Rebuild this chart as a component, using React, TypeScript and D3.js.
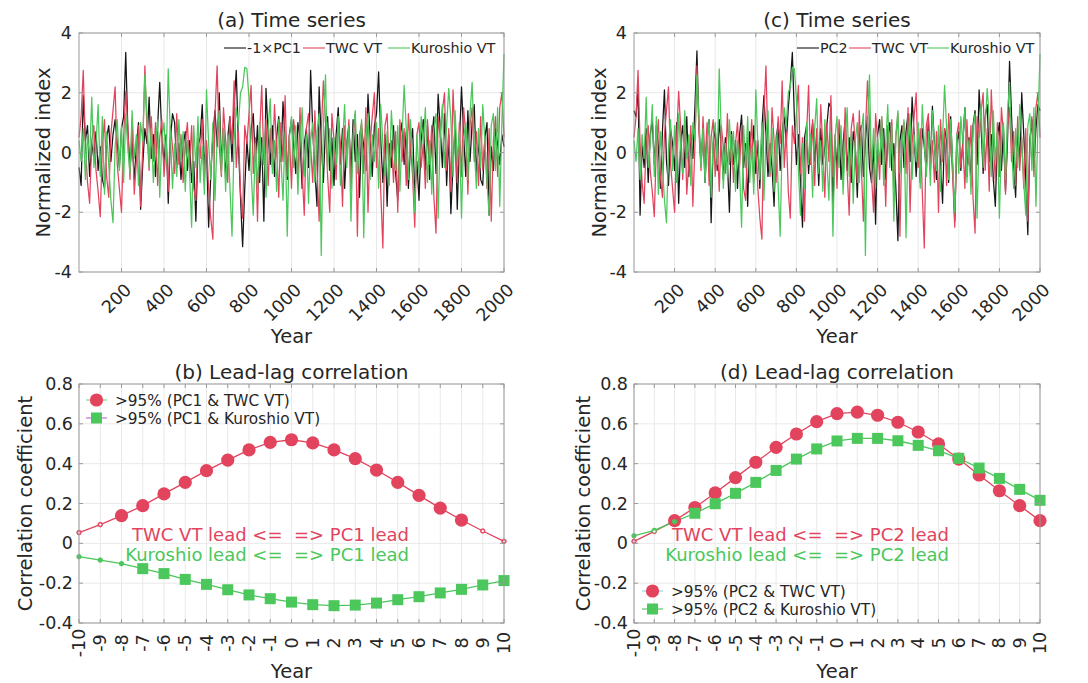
import React from 'react';
import * as d3 from 'd3';

// ---------------- DATA ----------------
const YEARS = d3.range(0, 2001, 10);

const TWC_VT = [
  0.5, 1.2, 2.75, 0.3, -1.0, -1.7, 0.4, 0.9, -0.6, -1.3,
  -2.15, 0.2, 1.1, -0.8, -1.5, 0.6, 1.4, 2.2, -0.4, -1.2,
  -2.0, 0.5, 2.05, 0.8, -0.9, 1.1, -1.4, -0.3, 0.9, -1.8,
  0.2, 2.9, 0.7, -0.6, 1.2, -0.3, 1.0, -1.1, 0.5, 1.1,
  -0.8, 0.4, -1.3, 0.9, 0.2, -0.7, 1.3, -0.4, 0.6, -1.0,
  0.3, 1.0, -0.5, 0.9, -1.2, -1.6, 0.5, -0.2, 1.1, -1.0,
  0.4, -1.2, -2.2, -2.9, 1.3, 2.9, 0.2, -0.8, 1.5, 0.4,
  -1.0, 1.2, 0.3, 2.4, -0.5, 0.7, -1.3, -2.2, 0.9, 0.3,
  1.3, 2.25, -0.7, 0.5, -2.3, 0.6, 2.25, -0.4, 1.1, -1.1,
  0.8, -0.5, 1.6, 0.2, -1.5, 1.0, -0.3, 1.9, -0.8, 0.6,
  -1.2, 1.1, 0.4, -0.9, 1.5, -0.6, -2.1, 0.8, 1.3, 0.2,
  -1.0, 1.4, -0.5, -2.3, 0.7, 2.4, 1.0, -0.8, -2.0, 1.3,
  0.4, -0.9, 1.2, 0.3, -1.8, 0.9, -0.2, 1.1, -1.2, 0.5,
  1.3, -2.8, 0.6, 1.0, -0.7, 1.5, -2.0, 0.3, 1.2, 2.0,
  -0.5, 0.8, -1.3, -3.2, 0.9, 1.3, -0.6, 0.4, -1.0, 0.7,
  -2.0, 1.1, -0.3, 0.8, -1.1, 1.3, 0.2, -0.8, -2.5, 0.6,
  1.0, -0.5, 0.3, -1.2, 1.1, -0.4, 0.9, -1.5, -2.7, 1.2,
  0.5, 1.4, 2.0, -0.6, 0.8, -1.3, 2.1, 0.4, -1.0, 1.0,
  -0.8, 1.5, 0.6, -1.4, 0.9, 1.5, -0.3, 0.7, -1.1, 1.2,
  -0.6, 0.5, -1.2, 0.8, -2.3, 0.4, 1.2, -0.8, 1.5, 2.0,
  0.5,
];

const KUROSHIO_VT = [
  0.4, -0.3, 0.8, -0.9, 0.6, -0.2, 1.85, -0.5, 0.3, 1.6,
  -0.8, 1.2, -1.4, 0.7, -0.4, -1.6, -2.35, 0.2, 1.1, -0.6,
  0.9, -1.0, 1.3, 0.1, -0.7, 1.4, -0.2, 0.6, -1.1, 1.0,
  0.4, 2.6, 1.2, -0.5, 0.8, -1.0, 0.3, 1.1, -1.5, 0.5,
  1.0, -0.4, 2.8, 0.6, -1.2, 0.3, -0.8, 1.1, -0.3, 0.7,
  -1.3, 0.4, -0.6, -2.5, 0.9, -0.5, 1.2, -1.0, 0.2, -1.4,
  2.1, 0.3, -0.9, 1.0, -1.6, 0.5, 1.4, -0.7, 0.8, -1.3,
  0.6, -1.1, -2.8, 0.4, 1.5, 0.9, 2.0, 2.2, 2.85, 2.8,
  1.8, -0.6, -2.1, 0.3, -1.2, 1.0, -0.4, 0.6, -1.5, 0.8,
  1.8, -0.7, 0.4, -1.3, 1.1, -0.2, -1.6, 0.7, -2.8, 0.5,
  1.2, -0.5, 0.9, -1.4, 0.3, 1.5, -0.8, 0.6, -1.7, 0.4,
  1.0, -1.0, 0.7, 1.3, -3.45, 0.9, 2.6, -0.6, 0.8, -1.2,
  0.5, -0.4, 1.2, -1.1, 0.3, 1.6, -0.5, 0.9, -2.3, 0.6,
  1.4, -0.7, 0.2, 1.1, -2.85, 0.4, 1.3, -0.9, 0.6, -0.3,
  1.0, -1.2, 1.6, 0.3, -0.8, 0.7, -1.1, 1.4, 0.2, -0.6,
  0.9, -1.3, 0.5, 2.25, 0.8, -0.9, 1.1, -0.4, -2.0, 0.6,
  -0.7, 1.2, 0.3, 1.5, -1.0, 0.4, -1.4, 0.8, 1.3, -2.2,
  0.6, 1.6, -0.5, 0.9, 2.15, 1.1, -0.8, 1.4, -0.3, 0.7,
  -2.2, 0.5, 1.0, -0.9, 1.3, 2.35, 0.2, -1.2, 0.8, -0.5,
  1.6, 0.4, -1.0, -2.1, 0.9, 1.3, -0.6, 1.5, -1.8, 1.0,
  3.3,
];

const NEG_PC1 = [
  -0.5, -1.1, 1.9, 0.4, 0.9, -0.8, 0.3, -0.2, 0.7, -0.6,
  0.2, -0.9, -1.2, 0.5, 0.9, -0.3, 0.6, 1.1, 0.3, -0.5,
  0.8, 1.2, 3.35, 0.7, -0.5, 0.4, -0.9, 0.2, 1.0, -1.9,
  -0.4, 0.8, 0.3, 1.85, -0.2, 0.6, -0.8, 0.9, 2.35, 0.5,
  -0.3, 0.6, -1.7, 0.4, 1.3, 1.0, -0.5, 0.3, -0.9, 0.2,
  0.7, -0.6, 0.4, -1.0, -0.3, -2.3, 0.2, 0.5, 1.6, -0.4,
  0.3, -2.5, -0.8, 0.6, 1.4, 0.2, 2.0, -0.4, 0.8, -0.9,
  0.5, 1.2, -0.3, 1.6, 2.75, 0.3, -1.5, -3.15, -1.2, 0.4,
  -0.6, 0.8, 1.3, -0.3, 0.9, -1.0, 0.5, -2.3, 2.15, 0.6,
  -0.4, 0.9, -0.8, 0.5, 1.2, -0.3, 1.7, 0.4, -0.9, 0.6,
  1.1, 0.2, -0.7, 1.0, 0.5, -1.2, 0.3, 0.8, -0.5, 2.75,
  0.7, -0.6, -1.8, 2.2, 0.4, -1.0, 0.9, 1.2, -0.6, 0.5,
  -1.1, 0.6, 1.5, -0.4, 0.8, -1.2, 0.3, 0.9, -0.7, 1.1,
  -0.3, 0.6, -1.5, 0.8, 0.2, -0.6, 1.95, 0.5, -0.8, 0.9,
  1.3, 2.7, 0.4, -1.0, 0.6, -1.8, 0.3, -0.5, 0.9, -0.7,
  -1.6, 0.5, 1.0, -0.4, 0.7, -1.2, 0.2, 0.8, -1.4, -0.3,
  -1.6, 0.4, 1.1, -0.6, 0.9, -0.9, 0.5, 1.2, -0.7, 1.95,
  0.8, -0.5, 1.3, -1.1, 0.6, -2.05, -0.4, 0.9, -1.9, 0.3,
  2.2, 0.6, -0.8, 1.4, -0.3, 1.0, 1.6, -0.7, 0.4, -0.9,
  -1.1, 0.5, 1.0, -2.1, 0.2, -0.6, 0.8, 0.3, -0.4, 0.6,
  0.2,
];

const PC2 = [
  1.4, 1.2, 2.2, -2.1, 0.3, -0.5, 0.8, -1.0, 0.6, 1.1,
  -0.4, 0.9, 0.2, -1.2, 0.7, 2.1, -0.3, -1.1, 0.8, 0.3,
  -0.6, 1.0, -1.7, 0.4, 0.9, -0.5, 1.2, -0.8, 0.6, -0.2,
  1.5, 3.4, 0.9, -0.4, 0.7, -1.0, 0.5, 1.1, -2.35, 0.3,
  0.8, -0.6, 1.1, 0.2, -0.9, 0.5, -0.3, -2.0, 0.7, -0.4,
  0.4, -1.2, 0.6, 1.25, -0.5, 0.3, -1.8, 0.7, -0.2, 0.9,
  -0.7, 0.4, -1.2, 0.8, 1.9, 0.6, -0.8, 0.3, -0.5, -1.8,
  0.4, 1.0, -0.6, 0.7, 1.2, 0.3, 1.5, 2.3, 3.35, 1.2,
  -0.4, 0.6, -1.0, -2.5, 0.5, 0.9, -0.7, 0.4, 1.0, -0.3,
  0.6, -1.1, 0.8, -0.4, 0.2, 0.9, 1.65, 1.5, -1.9, 0.4,
  -0.5, 0.8, -0.9, 0.3, 1.1, -0.6, 0.5, -1.0, 0.7, 0.2,
  -1.5, 0.6, 0.9, -0.8, 0.4, 1.2, -0.5, -1.0, 0.3, -2.4,
  0.6, 1.1, -0.4, 0.8, -0.9, 0.5, 1.0, -0.6, 0.3, -1.2,
  -2.95, 0.4, 0.9, -0.5, 0.7, 1.3, -0.3, 1.85, 0.6, -0.8,
  0.5, -1.0, 0.8, 0.2, -0.6, 1.1, -0.4, 1.55, 0.3, -0.9,
  0.6, -0.3, -1.7, 0.8, 0.4, -1.0, 1.2, -0.5, -2.3, 0.3,
  0.7, -0.6, 0.4, 1.5, -0.8, 0.5, -1.1, 0.9, 1.4, -0.4,
  2.1, 0.8, -0.7, 1.2, 1.6, -0.3, 0.6, -0.9, -1.8, 0.5,
  1.0, -0.6, 0.8, -1.3, 0.4, 3.05, 1.2, -0.5, -1.5, 0.7,
  -0.3, 2.0, 0.6, -0.9, -2.75, 0.4, 1.1, -0.5, 0.8, 1.6,
  1.4,
];

const TS_X_TICKS = [200, 400, 600, 800, 1000, 1200, 1400, 1600, 1800, 2000];
const TS_Y_TICKS = [-4, -2, 0, 2, 4];

const LAGS = d3.range(-10, 11);
const CORR_PC1_TWC = [0.054, 0.094, 0.139, 0.189, 0.248, 0.306, 0.365, 0.418, 0.469, 0.507, 0.52,
  0.504, 0.469, 0.425, 0.368, 0.306, 0.241, 0.177, 0.117, 0.062, 0.01];
const CORR_PC1_KURO = [-0.067, -0.084, -0.102, -0.127, -0.152, -0.181, -0.206, -0.233, -0.259, -0.278, -0.295,
  -0.308, -0.313, -0.31, -0.3, -0.283, -0.268, -0.249, -0.231, -0.209, -0.187];
const CORR_PC2_TWC = [0.01, 0.06, 0.114, 0.18, 0.253, 0.33, 0.407, 0.482, 0.549, 0.611, 0.651,
  0.659, 0.643, 0.608, 0.559, 0.499, 0.423, 0.343, 0.264, 0.189, 0.114];
const CORR_PC2_KURO = [0.038, 0.065, 0.109, 0.151, 0.199, 0.251, 0.306, 0.366, 0.423, 0.474, 0.514,
  0.527, 0.527, 0.515, 0.492, 0.465, 0.427, 0.378, 0.326, 0.271, 0.216];
// 1 = above 95% significance, 0 = not significant
const SIG_PC1_TWC = [0, 0, 1, 1, 1, 1, 1, 1, 1, 1, 1, 1, 1, 1, 1, 1, 1, 1, 1, 0, 0];
const SIG_PC1_KURO = [0, 0, 0, 1, 1, 1, 1, 1, 1, 1, 1, 1, 1, 1, 1, 1, 1, 1, 1, 1, 1];
const SIG_PC2_TWC = [0, 0, 1, 1, 1, 1, 1, 1, 1, 1, 1, 1, 1, 1, 1, 1, 1, 1, 1, 1, 1];
const SIG_PC2_KURO = [0, 0, 0, 1, 1, 1, 1, 1, 1, 1, 1, 1, 1, 1, 1, 1, 1, 1, 1, 1, 1];
const LL_Y_TICKS = [-0.4, -0.2, 0, 0.2, 0.4, 0.6, 0.8];

// ---------------- STYLE ----------------
const FONT = '"DejaVu Sans", Verdana, sans-serif';
const RED = '#E2445E';
const GREEN = '#4BC75C';
const TXT = '#262626';
const AXIS = '#9a9a9a';
const GRID = '#e9e9e9';

type Box = { left: number; right: number; top: number; bottom: number };

function Frame({ box, xTicks, yTicks, x, y }: any) {
  return (
    <g>
      {xTicks.map((t: number) => (
        <line key={'gx' + t} x1={x(t)} x2={x(t)} y1={box.top} y2={box.bottom} stroke={GRID} strokeWidth={1} />
      ))}
      {yTicks.map((t: number) => (
        <line key={'gy' + t} x1={box.left} x2={box.right} y1={y(t)} y2={y(t)} stroke={GRID} strokeWidth={1} />
      ))}
    </g>
  );
}

function Border({ box, xTicks, yTicks, x, y }: any) {
  const tl = 4;
  return (
    <g stroke={AXIS} strokeWidth={1} fill="none">
      <rect x={box.left} y={box.top} width={box.right - box.left} height={box.bottom - box.top} />
      {xTicks.map((t: number) => (
        <g key={'tx' + t}>
          <line x1={x(t)} x2={x(t)} y1={box.bottom} y2={box.bottom - tl} />
          <line x1={x(t)} x2={x(t)} y1={box.top} y2={box.top + tl} />
        </g>
      ))}
      {yTicks.map((t: number) => (
        <g key={'ty' + t}>
          <line x1={box.left} x2={box.left + tl} y1={y(t)} y2={y(t)} />
          <line x1={box.right} x2={box.right - tl} y1={y(t)} y2={y(t)} />
        </g>
      ))}
    </g>
  );
}

function TimeSeriesPanel({ box, title, black, blackLabel, legend, ylabX }: any) {
  const x = d3.scaleLinear().domain([0, 2000]).range([box.left, box.right]);
  const y = d3.scaleLinear().domain([-4, 4]).range([box.bottom, box.top]);
  const line = d3.line<number>()
    .x((_, i) => x(YEARS[i]))
    .y((d) => y(d));
  const cx = (box.left + box.right) / 2;
  return (
    <g fontFamily={FONT} fill={TXT}>
      <text x={cx} y={27} textAnchor="middle" fontSize={20}>{title}</text>
      <Frame box={box} xTicks={TS_X_TICKS} yTicks={TS_Y_TICKS} x={x} y={y} />
      <g fill="none" strokeWidth={1.25} strokeLinejoin="round">
        <path d={line(black) || ''} stroke="#151515" />
        <path d={line(TWC_VT) || ''} stroke={RED} />
        <path d={line(KUROSHIO_VT) || ''} stroke={GREEN} />
      </g>
      <Border box={box} xTicks={TS_X_TICKS} yTicks={TS_Y_TICKS} x={x} y={y} />
      {TS_Y_TICKS.map((t) => (
        <text key={'yl' + t} x={box.left - 7} y={y(t) + 6} textAnchor="end" fontSize={17.5}>{String(t)}</text>
      ))}
      {TS_X_TICKS.map((t) => (
        <text key={'xl' + t} transform={`translate(${x(t) + 11},${box.bottom + 19}) rotate(-45)`} textAnchor="end" fontSize={17.5}>{String(t)}</text>
      ))}
      <text x={cx} y={box.bottom + 71} textAnchor="middle" fontSize={19.5}>Year</text>
      <text transform={`translate(${ylabX},${(box.top + box.bottom) / 2}) rotate(-90)`} textAnchor="middle" fontSize={19.5}>Normalized index</text>
      <g fontSize={14.3}>
        {[
          { label: blackLabel, color: '#151515', l0: legend[0] },
          { label: 'TWC VT', color: RED, l0: legend[1] },
          { label: 'Kuroshio VT', color: GREEN, l0: legend[2] },
        ].map((it, i) => (
          <g key={i}>
            <line x1={it.l0} x2={it.l0 + 22} y1={48} y2={48} stroke={it.color} strokeWidth={1.1} />
            <text x={it.l0 + 23} y={53}>{it.label}</text>
          </g>
        ))}
      </g>
    </g>
  );
}

function Marker({ cx, cy, sig, shape, color }: any) {
  if (!sig) return <circle cx={cx} cy={cy} r={2.3} fill={color} stroke={color} strokeWidth={0.8} />;
  if (shape === 'circle') return <circle cx={cx} cy={cy} r={6.6} fill={color} />;
  return <rect x={cx - 5.5} y={cy - 5.5} width={11} height={11} fill={color} />;
}

function LeadLagPanel({ box, title, twc, kuro, sigT, sigK, pcName, legendY, legendX, legendLines, annotEnd, ylabX }: any) {
  const x = d3.scaleLinear().domain([-10, 10]).range([box.left, box.right]);
  const y = d3.scaleLinear().domain([-0.4, 0.8]).range([box.bottom, box.top]);
  const line = d3.line<number>()
    .x((_, i) => x(LAGS[i]))
    .y((d) => y(d));
  const cx = (box.left + box.right) / 2;
  const fmt = (v: number) => String(+v.toFixed(1));
  return (
    <g fontFamily={FONT} fill={TXT}>
      <text x={cx} y={box.top - 5} textAnchor="middle" fontSize={20}>{title}</text>
      <Frame box={box} xTicks={LAGS} yTicks={LL_Y_TICKS} x={x} y={y} />
      <path d={line(twc) || ''} fill="none" stroke={RED} strokeWidth={1.3} />
      <path d={line(kuro) || ''} fill="none" stroke={GREEN} strokeWidth={1.3} />
      {twc.map((v: number, i: number) => (
        <Marker key={'t' + i} cx={x(LAGS[i])} cy={y(v)} sig={sigT[i]} shape="circle" color={RED} />
      ))}
      {kuro.map((v: number, i: number) => (
        <Marker key={'k' + i} cx={x(LAGS[i])} cy={y(v)} sig={sigK[i]} shape="square" color={GREEN} />
      ))}
      {twc.map((v: number, i: number) => !sigT[i] ? (
        <circle key={'tw' + i} cx={x(LAGS[i])} cy={y(v)} r={1.2} fill="#fff" />
      ) : null)}
      <Border box={box} xTicks={LAGS} yTicks={LL_Y_TICKS} x={x} y={y} />
      {LL_Y_TICKS.map((t) => (
        <text key={'yl' + t} x={box.left - 6} y={y(t) + 6} textAnchor="end" fontSize={17.5}>{fmt(t)}</text>
      ))}
      {LAGS.map((t) => (
        <text key={'xl' + t} transform={`translate(${x(t) + 6},${box.bottom + 20}) rotate(-90)`} textAnchor="middle" fontSize={17.5}>{String(t)}</text>
      ))}
      <text x={cx} y={box.bottom + 55} textAnchor="middle" fontSize={19.5}>Year</text>
      <text transform={`translate(${ylabX},${(box.top + box.bottom) / 2}) rotate(-90)`} textAnchor="middle" fontSize={19.5}>Correlation coefficient</text>
      <g fontSize={18} style={{ whiteSpace: 'pre' }}>
        <text x={annotEnd} y={y(0) - 2} textAnchor="end" fill={RED} xmlSpace="preserve">{`TWC VT lead <=  => ${pcName} lead`}</text>
        <text x={annotEnd} y={y(0) + 18} textAnchor="end" fill={GREEN} xmlSpace="preserve">{`Kuroshio lead <=  => ${pcName} lead`}</text>
      </g>
      <g fontSize={15.3}>
        <line x1={legendX} x2={legendX + 21} y1={legendY} y2={legendY} stroke={legendLines[0]} strokeWidth={1.1} />
        <circle cx={legendX + 10.5} cy={legendY} r={6.6} fill={RED} />
        <text x={legendX + 29} y={legendY + 5.5}>{`>95% (${pcName} & TWC VT)`}</text>
        <line x1={legendX} x2={legendX + 21} y1={legendY + 18} y2={legendY + 18} stroke={legendLines[1]} strokeWidth={1.1} />
        <rect x={legendX + 5} y={legendY + 12.5} width={11} height={11} fill={GREEN} />
        <text x={legendX + 29} y={legendY + 23.5}>{`>95% (${pcName} & Kuroshio VT)`}</text>
      </g>
    </g>
  );
}

export default function App() {
  const boxA: Box = { left: 79, right: 504, top: 33, bottom: 272 };
  const boxC: Box = { left: 634, right: 1040, top: 33, bottom: 272 };
  const boxB: Box = { left: 79, right: 504, top: 384, bottom: 623 };
  const boxD: Box = { left: 634, right: 1040, top: 384, bottom: 623 };
  return (
    <svg width={1088} height={683} viewBox="0 0 1088 683" style={{ position: 'absolute', left: 0, top: 0, background: '#fff' }}>
      <rect width={1088} height={683} fill="#fff" />
      <TimeSeriesPanel box={boxA} title="(a) Time series" black={NEG_PC1} blackLabel="-1×PC1" legend={[224, 303, 388]} ylabX={50} />
      <TimeSeriesPanel box={boxC} title="(c) Time series" black={PC2} blackLabel="PC2" legend={[797, 849, 927]} ylabX={606} />
      <LeadLagPanel box={boxB} title="(b) Lead-lag correlation" twc={CORR_PC1_TWC} kuro={CORR_PC1_KURO}
        sigT={SIG_PC1_TWC} sigK={SIG_PC1_KURO} pcName="PC1" legendY={400} legendX={86}
        legendLines={['#7fd67f', '#b66ad6']} annotEnd={409} ylabX={32} />
      <LeadLagPanel box={boxD} title="(d) Lead-lag correlation" twc={CORR_PC2_TWC} kuro={CORR_PC2_KURO}
        sigT={SIG_PC2_TWC} sigK={SIG_PC2_KURO} pcName="PC2" legendY={591} legendX={642}
        legendLines={['#7fd3e3', GREEN]} annotEnd={949} ylabX={590} />
    </svg>
  );
}
